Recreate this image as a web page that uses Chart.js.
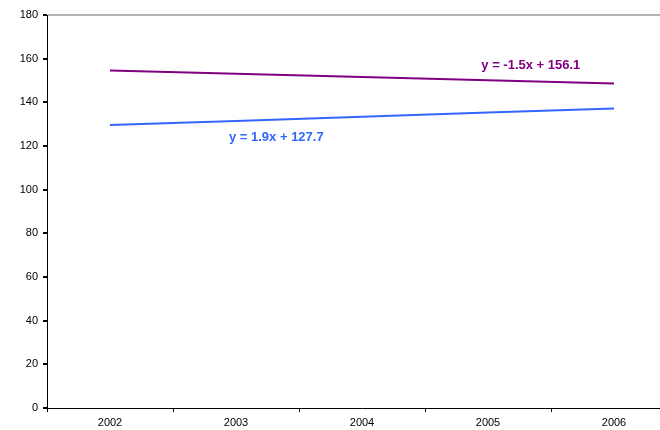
<!DOCTYPE html>
<html>
<head>
<meta charset="utf-8">
<script src="https://cdn.jsdelivr.net/npm/chart.js@4/dist/chart.umd.min.js"></script>
<style>
  html, body { margin: 0; padding: 0; background: #fff; overflow: hidden; }
  #wrap { width: 680px; height: 430px; }
</style>
</head>
<body>
<div id="wrap"><canvas id="trendChart" width="680" height="430"></canvas></div>
<script>
const years = ["2002", "2003", "2004", "2005", "2006"];
const purpleTrend = [154.6, 153.1, 151.6, 150.1, 148.6];
const blueTrend = [129.6, 131.5, 133.4, 135.3, 137.2];
const yTicks = [0, 20, 40, 60, 80, 100, 120, 140, 160, 180];

const purpleLabel = "y = -1.5x + 156.1";
const blueLabel = "y = 1.9x + 127.7";

const fontFamily = "'Liberation Sans', Arial, sans-serif";

// equation captions, placed in data coordinates
const equationLabels = {
  id: "equationLabels",
  afterDatasetsDraw(chart) {
    const { ctx, scales } = chart;
    const items = [
      { text: purpleLabel, x: 3.34, y: 157.1, color: "#800080" },
      { text: blueLabel, x: 1.32, y: 124.1, color: "#3366ff" },
    ];
    ctx.save();
    ctx.font = "bold 13px " + fontFamily;
    ctx.textAlign = "center";
    ctx.textBaseline = "middle";
    items.forEach((it) => {
      ctx.fillStyle = it.color;
      ctx.fillText(it.text, scales.x.getPixelForValue(it.x), scales.y.getPixelForValue(it.y));
    });
    ctx.restore();
  },
};

const ctx = document.getElementById("trendChart").getContext("2d");
new Chart(ctx, {
  type: "line",
  data: {
    labels: years,
    datasets: [
      {
        label: purpleLabel,
        data: purpleTrend,
        borderColor: "#800080",
        borderWidth: 2,
        pointRadius: 0,
        fill: false,
      },
      {
        label: blueLabel,
        data: blueTrend,
        borderColor: "#3366ff",
        borderWidth: 2,
        pointRadius: 0,
        fill: false,
      },
    ],
  },
  options: {
    responsive: false,
    animation: false,
    layout: { padding: { top: 15, right: 3, left: 0, bottom: 0 } },
    plugins: {
      legend: { display: false },
      tooltip: { enabled: false },
    },
    scales: {
      x: {
        offset: true,
        afterFit: (s) => { s.height = 22; },
        grid: {
          offset: true,
          drawOnChartArea: false,
          tickLength: 4,
          tickColor: "#000",
        },
        border: { color: "#000", width: 1 },
        ticks: {
          color: "#000",
          font: { family: fontFamily, size: 11 },
          padding: 4,
          maxRotation: 0,
        },
      },
      y: {
        min: 0,
        max: 180,
        afterFit: (s) => { s.width = 47; },
        afterBuildTicks: (s) => { s.ticks = yTicks.map((v) => ({ value: v })); },
        grid: {
          color: (c) => (c.tick && c.tick.value === 180 ? "#b4b4b4" : "rgba(0,0,0,0)"),
          lineWidth: 2,
          tickLength: 4,
          tickColor: "#000",
        },
        border: { color: "#000", width: 1 },
        ticks: {
          color: "#000",
          font: { family: fontFamily, size: 11 },
          padding: 5,
        },
      },
    },
  },
  plugins: [equationLabels],
});
</script>
</body>
</html>
